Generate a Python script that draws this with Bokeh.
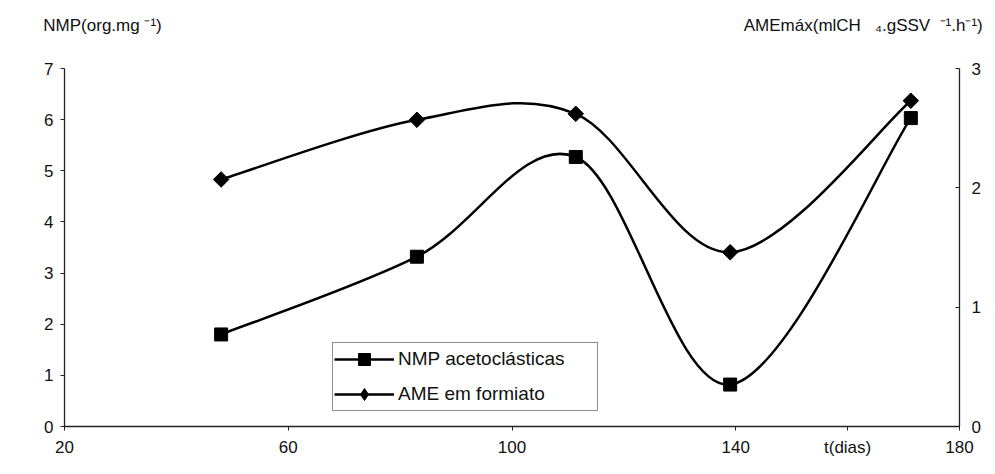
import numpy as np
from bokeh.plotting import figure
from bokeh.models import (Range1d, LinearAxis, FixedTicker, Legend,
                          LegendItem, ColumnDataSource)
from bokeh.embed import file_html
from bokeh.resources import INLINE

# ---- data ----
days = [48, 83, 111.4, 139, 171.3]
nmp_acetoclasticas = [1.80, 3.32, 5.27, 0.82, 6.03]      # left axis
ame_formiato = [2.07, 2.57, 2.62, 1.46, 2.73]            # right axis

x_ticks = [20, 60, 100, 140, 180]
left_ticks = [0, 1, 2, 3, 4, 5, 6, 7]
right_ticks = [0, 1, 2, 3]

left_title = "NMP(org.mg \u207b\u00b9)"
right_title = "AMEm\u00e1x(mlCH\u00a0\u00a0\u00a0\u2084.gSSV\u00a0\u00a0\u207b\u00b9.h\u207b\u00b9)"
x_title = "t(dias)"
series_names = ["NMP acetocl\u00e1sticas", "AME em formiato"]

# positions (in x data units) where the header texts are centred
left_title_at = 26.8
right_title_at = 162.8
x_title_at = 160

FONT = "Liberation Sans"


def smooth_segments(xs, ys):
    """Bezier control points (Excel-like smoothed line) from the data points."""
    n = len(xs)
    out = dict(x0=[], y0=[], x1=[], y1=[], cx0=[], cy0=[], cx1=[], cy1=[])
    for i in range(n - 1):
        xm, ym = (xs[i - 1], ys[i - 1]) if i > 0 else (xs[i], ys[i])
        xp, yp = (xs[i + 2], ys[i + 2]) if i + 2 < n else (xs[i + 1], ys[i + 1])
        out["x0"].append(xs[i]); out["y0"].append(ys[i])
        out["x1"].append(xs[i + 1]); out["y1"].append(ys[i + 1])
        out["cx0"].append(xs[i] + (xs[i + 1] - xm) / 6.0)
        out["cy0"].append(ys[i] + (ys[i + 1] - ym) / 6.0)
        out["cx1"].append(xs[i + 1] - (xp - xs[i]) / 6.0)
        out["cy1"].append(ys[i + 1] - (yp - ys[i]) / 6.0)
    return out


p = figure(width=985, height=461, output_backend="svg", toolbar_location=None,
           x_range=Range1d(20, 180), y_range=Range1d(0, 7),
           min_border_left=55, min_border_right=35, min_border_top=56,
           min_border_bottom=47)
p.margin = (12, 0, 0, 9)
p.outline_line_color = None
p.grid.visible = False
p.background_fill_color = "white"
p.border_fill_color = "white"
p.extra_y_ranges = {"right": Range1d(0, 3), "key": Range1d(100, 103)}

bottom_axis = p.xaxis[0]
bottom_axis.ticker = FixedTicker(ticks=x_ticks + [x_title_at])
bottom_axis.major_label_overrides = {x_title_at: x_title}
left_axis = p.yaxis[0]
left_axis.ticker = FixedTicker(ticks=left_ticks)

right_axis = LinearAxis(y_range_name="right", ticker=FixedTicker(ticks=right_ticks))
p.add_layout(right_axis, "right")

top_axis = LinearAxis(ticker=FixedTicker(ticks=[left_title_at, right_title_at]),
                      major_label_overrides={left_title_at: left_title,
                                             right_title_at: right_title})
p.add_layout(top_axis, "above")

for ax in [bottom_axis, left_axis, right_axis, top_axis]:
    ax.axis_line_color = "#222"
    ax.axis_line_width = 1.3
    ax.major_tick_line_color = "#222"
    ax.major_tick_line_width = 1
    ax.minor_tick_line_color = None
    ax.major_label_text_font = FONT
    ax.major_label_text_font_size = "17px"
    ax.major_label_text_color = "#111"
    ax.major_tick_out = 4
    ax.major_tick_in = 0
    ax.major_label_standoff = 7
right_axis.major_tick_out = 0
right_axis.major_tick_in = 4
right_axis.major_label_standoff = 12
top_axis.axis_line_color = None
top_axis.major_tick_line_color = None
top_axis.major_tick_out = 0
top_axis.major_label_standoff = 34

# curves
nmp_seg = ColumnDataSource(smooth_segments(days, nmp_acetoclasticas))
ame_seg = ColumnDataSource(smooth_segments(days, ame_formiato))

r_nmp_curve = p.bezier(x0="x0", y0="y0", x1="x1", y1="y1", cx0="cx0", cy0="cy0",
                       cx1="cx1", cy1="cy1", source=nmp_seg, line_color="black",
                       line_width=2.5)
r_ame_curve = p.bezier(x0="x0", y0="y0", x1="x1", y1="y1", cx0="cx0", cy0="cy0",
                       cx1="cx1", cy1="cy1", source=ame_seg, line_color="black",
                       line_width=2.5, y_range_name="right")

r_nmp_pts = p.scatter(days, nmp_acetoclasticas, marker="square", size=13,
                      fill_color="black", line_color="black")
r_ame_pts = p.scatter(days, ame_formiato, marker="square", angle=np.pi / 4,
                      size=11, fill_color="black", line_color="black",
                      y_range_name="right")
# legend swatch for the diamond series: same data on a range where it falls
# outside the frame (so only the legend shows it)
r_ame_key = p.scatter(days, ame_formiato, marker="diamond", fill_color="black",
                      line_color="black", y_range_name="key")

legend = Legend(items=[LegendItem(label=series_names[0], renderers=[r_nmp_curve, r_nmp_pts]),
                       LegendItem(label=series_names[1], renderers=[r_ame_curve, r_ame_key])],
                location=(268, 15), orientation="vertical",
                glyph_width=60, glyph_height=30, label_standoff=4,
                label_width=198, padding=1, spacing=5, margin=0,
                label_text_font=FONT, label_text_font_size="19px",
                label_text_color="#111",
                border_line_color="#222", border_line_width=1,
                background_fill_color="white", background_fill_alpha=1)
p.add_layout(legend, "center")

open("out.html", "w").write(file_html(p, INLINE))
